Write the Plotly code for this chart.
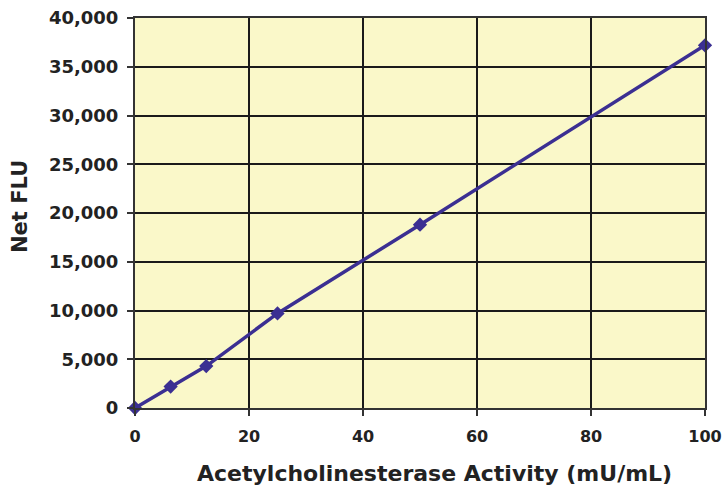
import plotly.graph_objects as go

activity = [0, 6.25, 12.5, 25, 50, 100]
net_flu = [0, 2200, 4300, 9700, 18800, 37200]

x_ticks = [0, 20, 40, 60, 80, 100]
y_ticks = [0, 5000, 10000, 15000, 20000, 25000, 30000, 35000, 40000]
y_labels = [f"{v:,}" for v in y_ticks]

fig = go.Figure()
fig.add_trace(go.Scatter(
    x=activity, y=net_flu, mode='lines+markers',
    line=dict(color='#3b2f92', width=3.5),
    marker=dict(symbol='diamond', size=11, color='#3b2f92'),
    showlegend=False, cliponaxis=False,
))

font = dict(family='DejaVu Sans, sans-serif', size=18, color='#222222', weight='bold')

fig.update_xaxes(
    range=[0, 100], tickvals=x_ticks, showgrid=True, gridcolor='#1a1a1a', gridwidth=1.5,
    showline=True, linecolor='#333333', linewidth=2, mirror=True,
    ticks='outside', ticklen=6, tickcolor='#333333', tickwidth=1.5,
    zeroline=False, tickfont=dict(font, size=16), automargin=False, ticklabelstandoff=7,
    ticklabeloverflow='allow',
)
fig.update_yaxes(
    range=[0, 40000], tickvals=y_ticks, ticktext=y_labels, showgrid=True, gridcolor='#1a1a1a', gridwidth=1.5,
    showline=True, linecolor='#333333', linewidth=2, mirror=True,
    ticks='outside', ticklen=6, tickcolor='#333333', tickwidth=1.5,
    zeroline=False, tickfont=font, automargin=False, ticklabelstandoff=5,
    ticklabeloverflow='allow',
)

# axis titles as annotations so they sit where the original has them
fig.add_annotation(text='Acetylcholinesterase Activity (mU/mL)', xref='paper', yref='paper',
                   x=0.525, y=-0.1308, xanchor='center', yanchor='top', showarrow=False,
                   font=dict(font, size=22))
fig.add_annotation(text='Net FLU', xref='paper', yref='paper', textangle=-90,
                   x=-0.2018, y=0.518, xanchor='center', yanchor='middle', showarrow=False,
                   font=dict(font, size=21))

fig.update_layout(
    width=722, height=486,
    margin=dict(l=135, r=17, t=18, b=78),
    plot_bgcolor='#faf8c9', paper_bgcolor='white',
)

# drop the default body margin so the figure fills the window exactly
fig.write_html("out.html", config={'displayModeBar': False},
               post_script="document.body.style.margin='0';document.body.style.overflow='hidden';")
